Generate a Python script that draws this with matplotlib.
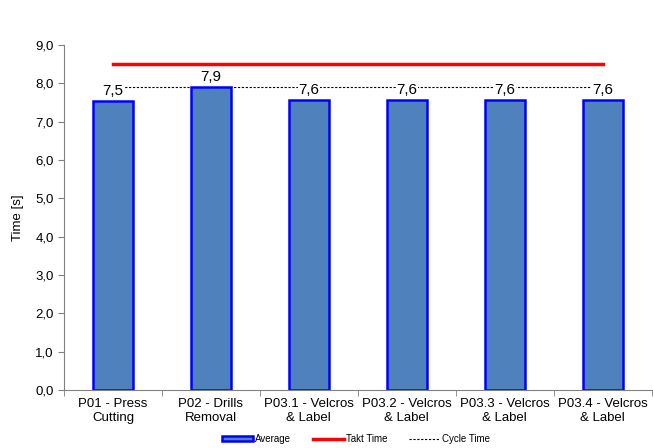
import numpy as np
import matplotlib.pyplot as plt

plt.rcParams["font.family"] = ["Liberation Sans", "DejaVu Sans"]

stations = ["P01 - Press\nCutting", "P02 - Drills\nRemoval", "P03.1 - Velcros\n& Label",
            "P03.2 - Velcros\n& Label", "P03.3 - Velcros\n& Label", "P03.4 - Velcros\n& Label"]
average = [7.54, 7.91, 7.56, 7.56, 7.56, 7.56]
takt_time = 8.5
cycle_time = max(average)

fig = plt.figure(figsize=(6.53, 4.48), dpi=100)
ax = fig.add_axes([0.098, 0.1295, 0.9, 0.7701])

x = np.arange(len(stations))
bars = ax.bar(x, average, width=0.41, color="#4F81BD", edgecolor="#0000FF", linewidth=1.8,
              label="Average", zorder=2)
takt, = ax.plot([x[0], x[-1]], [takt_time, takt_time], color="#FF0000", linewidth=2.5,
                label="Takt Time", zorder=3)
cycle, = ax.plot([x[0], x[-1]], [cycle_time, cycle_time], color="black", linewidth=0.8,
                 linestyle=(0, (2, 1.5)), label="Cycle Time", zorder=1)

for xi, v in zip(x, average):
    ax.text(xi, v + 0.08, f"{v:.1f}".replace(".", ","), ha="center", va="bottom",
            fontsize=11, zorder=4,
            bbox=dict(facecolor="white", edgecolor="none", pad=0.5))

ax.set_xlim(-0.5, len(stations) - 0.5)
ax.set_ylim(0, 9)
yt = np.arange(0, 9.5, 1.0)
ax.set_yticks(yt)
ax.set_yticklabels([f"{t:.1f}".replace(".", ",") for t in yt], fontsize=9.5)
ax.set_xticks(x)
ax.set_xticklabels(stations, fontsize=9.5)
ax.set_xticks(np.arange(-0.5, len(stations), 1.0), minor=True)
ax.tick_params(axis="x", which="major", length=0, pad=6)
ax.tick_params(axis="x", which="minor", length=4, color="#808080")
ax.tick_params(axis="y", length=4, color="#808080")
ax.set_ylabel("Time [s]", fontsize=9.5, labelpad=8)

for side in ["top", "right"]:
    ax.spines[side].set_visible(False)
for side in ["left", "bottom"]:
    ax.spines[side].set_color("#808080")

fig.legend([bars, takt, cycle], ["Average", "Takt Time", "Cycle Time"],
           loc="lower center", bbox_to_anchor=(0.545, -0.01), ncol=3, frameon=False,
           fontsize=7, handlelength=3.2, handleheight=0.5, columnspacing=2.2,
           handletextpad=0.2)

fig.savefig("out.png", dpi=100)
